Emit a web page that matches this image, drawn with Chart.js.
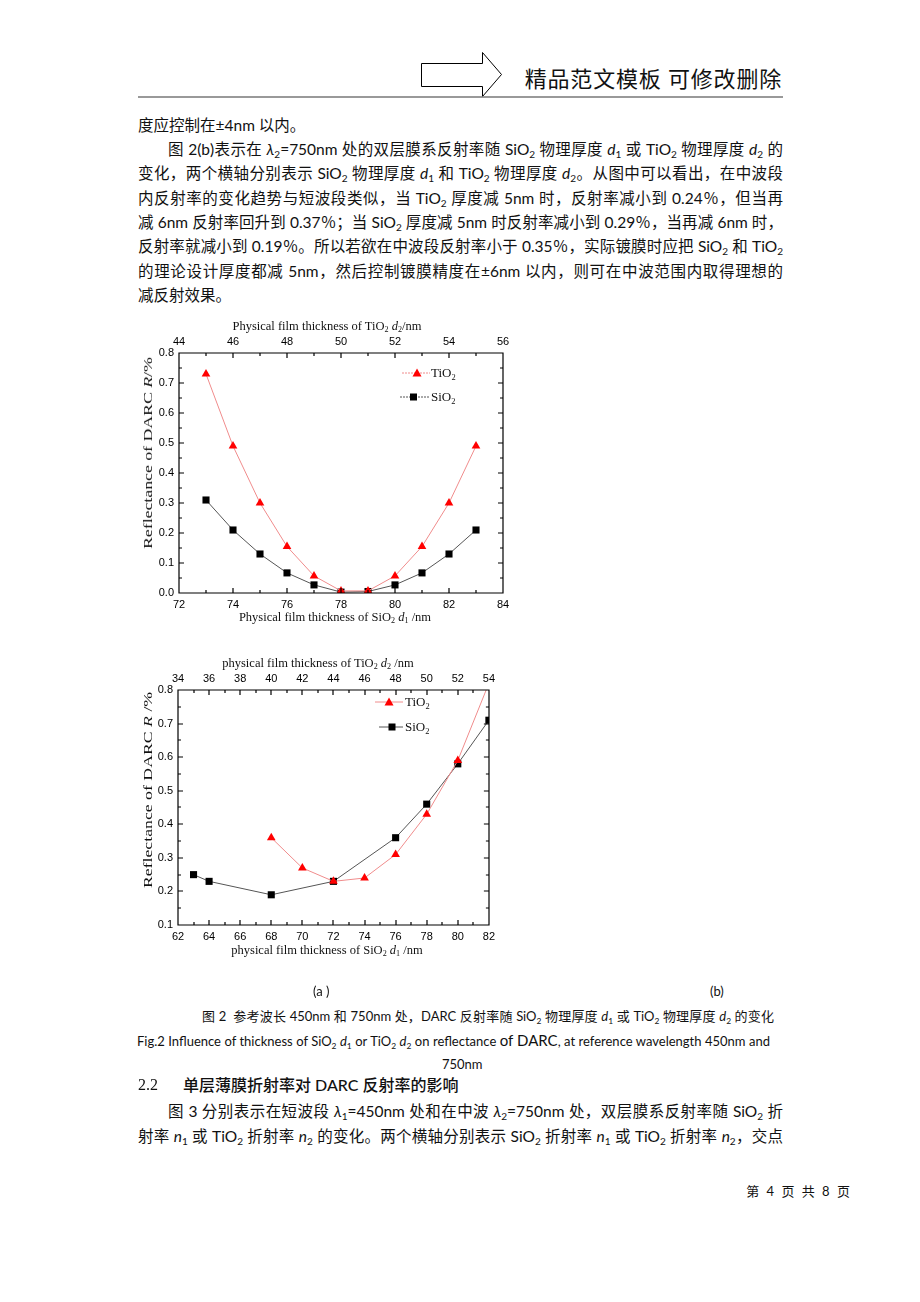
<!DOCTYPE html>
<html lang="zh">
<head>
<meta charset="UTF-8">
<title>DARC 反射率随膜层厚度的变化</title>
<script src="https://cdn.jsdelivr.net/npm/chart.js"></script>
<style>
  body { margin: 0; background: #fff; }
  #page { position: relative; width: 920px; height: 1302px; overflow: hidden;
          font-family: Lato, "Noto Sans CJK SC", sans-serif; color: #111; }
  .ln { position: absolute; white-space: nowrap; font-size: 15.5px; line-height: 20px; }
  .just { text-align: justify; text-align-last: justify; }
  .cap { font-size: 13px; }
  sub { font-size: 65%; vertical-align: -0.3em; line-height: 0; }
  .ttl { position: absolute; font-family: "Liberation Serif", serif; font-size: 12.5px;
         white-space: nowrap; line-height: 16px; color: #111; transform: translate(-50%, -50%); }
  .ytl { transform: translate(-50%, -50%) rotate(-90deg) scaleX(1.42); }
  .lg { position: absolute; font-family: "Liberation Serif", serif; font-size: 13px;
        white-space: nowrap; line-height: 16px; color: #111; }
  svg.mk { position: absolute; }
  canvas { position: absolute; }
</style>
</head>
<body>
<div id="page">
  <!-- 页眉 -->
  <svg style="position:absolute;left:0;top:0" width="920" height="110">
    <polygon points="421.5,63.5 482.5,63.5 482.5,52.5 501.5,74.5 482.5,96.5 482.5,86.5 421.5,86.5"
             fill="none" stroke="#000" stroke-width="1"/>
    <line x1="138" y1="97" x2="783" y2="97" stroke="#777" stroke-width="1.5"/>
  </svg>
  <div class="ln" style="right:138px;top:66px;font-size:22px;line-height:26px;font-weight:400;letter-spacing:0.8px">精品范文模板&nbsp;可修改删除</div>

  <!-- 正文 -->
  <div class="ln" style="left:138px;top:115px">度应控制在±4nm 以内。</div>
  <div class="ln just" style="left:168px;width:615px;top:139px">图 2(b)表示在 <i>λ</i><sub>2</sub>=750nm 处的双层膜系反射率随 SiO<sub>2</sub> 物理厚度 <i>d</i><sub>1</sub> 或 TiO<sub>2</sub> 物理厚度 <i>d</i><sub>2</sub> 的</div>
  <div class="ln just" style="left:138px;width:645px;top:163px">变化，两个横轴分别表示 SiO<sub>2</sub> 物理厚度 <i>d</i><sub>1</sub> 和 TiO<sub>2</sub> 物理厚度 <i>d</i><sub>2</sub>。从图中可以看出，在中波段</div>
  <div class="ln just" style="left:138px;width:645px;top:188px">内反射率的变化趋势与短波段类似，当 TiO<sub>2</sub> 厚度减 5nm 时，反射率减小到 0.24％，但当再</div>
  <div class="ln just" style="left:138px;width:645px;top:212px">减 6nm 反射率回升到 0.37％；当 SiO<sub>2</sub> 厚度减 5nm 时反射率减小到 0.29％，当再减 6nm 时，</div>
  <div class="ln just" style="left:138px;width:645px;top:236px">反射率就减小到 0.19％。所以若欲在中波段反射率小于 0.35％，实际镀膜时应把 SiO<sub>2</sub> 和 TiO<sub>2</sub></div>
  <div class="ln just" style="left:138px;width:645px;top:261px">的理论设计厚度都减 5nm，然后控制镀膜精度在±6nm 以内，则可在中波范围内取得理想的</div>
  <div class="ln" style="left:138px;top:285px">减反射效果。</div>

  <!-- 图 (a) -->
  <canvas id="chartA" width="365" height="280" style="left:150px;top:333px"></canvas>
  <div class="ttl" style="left:327px;top:326px">Physical film thickness of TiO<sub>2</sub> <i>d</i><sub>2</sub>/nm</div>
  <div class="ttl" style="left:335px;top:617px">Physical film thickness of SiO<sub>2</sub> <i>d</i><sub>1</sub> /nm</div>
  <div class="ttl ytl" style="left:148px;top:453px">Reflectance of DARC <i>R</i>/%</div>
  <svg class="mk" style="left:402px;top:368px" width="28" height="10">
    <line x1="0" y1="5" x2="28" y2="5" stroke="#f08c8c" stroke-width="1" stroke-dasharray="2,1"/>
    <polygon points="15,0.5 19.5,8.5 10.5,8.5" fill="#f00"/>
  </svg>
  <div class="lg" style="left:431px;top:365px">TiO<sub>2</sub></div>
  <svg class="mk" style="left:400px;top:392px" width="30" height="10">
    <line x1="0" y1="5" x2="30" y2="5" stroke="#555" stroke-width="1" stroke-dasharray="2,1"/>
    <rect x="10" y="1.5" width="7" height="7" fill="#000"/>
  </svg>
  <div class="lg" style="left:431px;top:389px">SiO<sub>2</sub></div>

  <!-- 图 (b) -->
  <canvas id="chartB" width="350" height="275" style="left:150px;top:670px"></canvas>
  <div class="ttl" style="left:318px;top:663px">physical film thickness of TiO<sub>2</sub> <i>d</i><sub>2</sub> /nm</div>
  <div class="ttl" style="left:327px;top:950px">physical film thickness of SiO<sub>2</sub> <i>d</i><sub>1</sub> /nm</div>
  <div class="ttl ytl" style="left:148px;top:790px">Reflectance of DARC <i>R</i> /%</div>
  <svg class="mk" style="left:375px;top:697px" width="28" height="10">
    <line x1="0" y1="5" x2="28" y2="5" stroke="#f08c8c" stroke-width="1"/>
    <polygon points="14,0.5 18.5,8.5 9.5,8.5" fill="#f00"/>
  </svg>
  <div class="lg" style="left:405px;top:694px">TiO<sub>2</sub></div>
  <svg class="mk" style="left:379px;top:722px" width="24" height="10">
    <line x1="0" y1="5" x2="24" y2="5" stroke="#555" stroke-width="1"/>
    <rect x="9.5" y="1.5" width="7" height="7" fill="#000"/>
  </svg>
  <div class="lg" style="left:405px;top:719px">SiO<sub>2</sub></div>

  <!-- 图注 -->
  <div class="ln cap" style="left:313px;top:981px">(a )</div>
  <div class="ln cap" style="left:710px;top:981px">(b)</div>
  <div class="ln cap just" style="left:202px;width:572px;top:1006px">图 2&nbsp; 参考波长 450nm 和 750nm 处，DARC 反射率随 SiO<sub>2</sub> 物理厚度 <i>d</i><sub>1</sub> 或 TiO<sub>2</sub> 物理厚度 <i>d</i><sub>2</sub> 的变化</div>
  <div class="ln cap just" style="left:137px;width:633px;top:1030px">Fig.2 Influence of thickness of SiO<sub>2</sub> <i>d</i><sub>1</sub> or TiO<sub>2</sub> <i>d</i><sub>2</sub> on reflectance <span style="font-size:15px">of DARC</span>, at reference wavelength 450nm and</div>
  <div class="ln cap" style="left:442px;top:1054px">750nm</div>

  <!-- 2.2 节 -->
  <div class="ln" style="left:138px;top:1075px;font-family:'Liberation Serif',serif;font-size:16px">2.2</div>
  <div class="ln" style="left:183px;top:1075px;font-size:16px;font-weight:500">单层薄膜折射率对 DARC 反射率的影响</div>
  <div class="ln just" style="left:168px;width:615px;top:1101px">图 3 分别表示在短波段 <i>λ</i><sub>1</sub>=450nm 处和在中波 <i>λ</i><sub>2</sub>=750nm 处，双层膜系反射率随 SiO<sub>2</sub> 折</div>
  <div class="ln just" style="left:138px;width:645px;top:1126px">射率 <i>n</i><sub>1</sub> 或 TiO<sub>2</sub> 折射率 <i>n</i><sub>2</sub> 的变化。两个横轴分别表示 SiO<sub>2</sub> 折射率 <i>n</i><sub>1</sub> 或 TiO<sub>2</sub> 折射率 <i>n</i><sub>2</sub>，交点</div>

  <!-- 页脚 -->
  <div class="ln" style="right:68px;top:1181px;font-size:13px;letter-spacing:2px">第 4 页 共 8 页</div>
</div>

<script>
  // 图(a)：λ=450nm
  const sio2D1A = [73, 74, 75, 76, 77, 78, 79, 80, 81, 82, 83];
  const sio2RA = [0.31, 0.21, 0.13, 0.067, 0.027, 0.003, 0.005, 0.027, 0.067, 0.13, 0.21];
  const tio2D2A = [45, 46, 47, 48, 49, 50, 51, 52, 53, 54, 55];
  const tio2RA = [0.73, 0.49, 0.30, 0.155, 0.057, 0.007, 0.007, 0.057, 0.155, 0.30, 0.49];

  // 图(b)：λ=750nm
  const sio2D1B = [63, 64, 68, 72, 76, 78, 80, 82];
  const sio2RB = [0.25, 0.23, 0.19, 0.23, 0.36, 0.46, 0.58, 0.71];
  const tio2D2B = [40, 42, 44, 46, 48, 50, 52, 54];
  const tio2RB = [0.36, 0.27, 0.23, 0.24, 0.31, 0.43, 0.59, 0.82];

  Chart.defaults.color = '#000';
  Chart.defaults.font.family = '"Liberation Sans", Arial, sans-serif';
  Chart.defaults.font.size = 11;

  // 画边框和朝内的刻度线
  const boxTicks = {
    id: 'boxTicks',
    afterDatasetsDraw(chart, args, opts) {
      const { ctx, chartArea: a, scales } = chart;
      ctx.save();
      ctx.strokeStyle = '#000';
      ctx.lineWidth = 1.2;
      ctx.beginPath();
      ctx.rect(Math.round(a.left), Math.round(a.top), Math.round(a.right - a.left), Math.round(a.bottom - a.top));
      const marks = (scale, minor, draw) => {
        const major = scale.ticks.map(t => t.value);
        for (let k = 0; ; k++) {
          const v = scale.min + k * minor;
          if (v > scale.max + 1e-9) break;
          const isMajor = major.some(m => Math.abs(m - v) < 1e-6);
          draw(Math.round(scale.getPixelForValue(v)), isMajor ? 5 : 3);
        }
      };
      marks(scales.x, opts.xMinor, (p, l) => { ctx.moveTo(p, a.bottom); ctx.lineTo(p, a.bottom - l); });
      marks(scales.x2, opts.xMinor, (p, l) => { ctx.moveTo(p, a.top); ctx.lineTo(p, a.top + l); });
      marks(scales.y, opts.yMinor, (p, l) => {
        ctx.moveTo(a.left, p); ctx.lineTo(a.left + l, p);
        ctx.moveTo(a.right, p); ctx.lineTo(a.right - l, p);
      });
      ctx.stroke();
      ctx.restore();
    }
  };

  function pairs(xs, ys) {
    return xs.map((v, i) => ({ x: v, y: ys[i] }));
  }

  function makeChart(id, c) {
    const noGrid = { display: false, drawTicks: false };
    return new Chart(document.getElementById(id), {
      type: 'line',
      data: {
        datasets: [
          {
            label: 'TiO2', data: pairs(c.tio2X, c.tio2Y), xAxisID: 'x2',
            borderColor: '#f08c8c', borderWidth: 1, pointStyle: 'triangle', pointRadius: 5,
            pointBackgroundColor: '#ff0000', pointBorderColor: '#ff0000', pointBorderWidth: 0,
            order: 0, clip: 0
          },
          {
            label: 'SiO2', data: pairs(c.sio2X, c.sio2Y), xAxisID: 'x',
            borderColor: '#555', borderWidth: 1, pointStyle: 'rect', pointRadius: 5,
            pointBackgroundColor: '#000', pointBorderColor: '#000', pointBorderWidth: 0,
            order: 1, clip: 0
          }
        ]
      },
      options: {
        responsive: false,
        animation: false,
        layout: { padding: { right: c.padRight, left: 0, top: 0, bottom: 0 } },
        plugins: {
          legend: { display: false },
          tooltip: { enabled: false },
          boxTicks: { xMinor: 1, yMinor: 0.05 }
        },
        scales: {
          x: {
            type: 'linear', position: 'bottom', min: c.xMin, max: c.xMax,
            ticks: { stepSize: 2, padding: 5, maxRotation: 0, autoSkip: false },
            grid: noGrid, border: { display: false },
            afterFit: s => { s.height = 20; }
          },
          x2: {
            type: 'linear', position: 'top', min: c.x2Min, max: c.x2Max,
            ticks: { stepSize: 2, padding: 4, maxRotation: 0, autoSkip: false },
            grid: noGrid, border: { display: false },
            afterFit: s => { s.height = 20; }
          },
          y: {
            min: c.yMin, max: 0.8,
            ticks: { stepSize: 0.1, padding: 5, callback: v => v.toFixed(1) },
            grid: noGrid, border: { display: false },
            afterFit: s => { s.width = c.yWidth; }
          }
        }
      },
      plugins: [boxTicks]
    });
  }

  makeChart('chartA', {
    sio2X: sio2D1A, sio2Y: sio2RA, tio2X: tio2D2A, tio2Y: tio2RA,
    xMin: 72, xMax: 84, x2Min: 44, x2Max: 56, yMin: 0, yWidth: 29, padRight: 12
  });
  makeChart('chartB', {
    sio2X: sio2D1B, sio2Y: sio2RB, tio2X: tio2D2B, tio2Y: tio2RB,
    xMin: 62, xMax: 82, x2Min: 34, x2Max: 54, yMin: 0.1, yWidth: 28, padRight: 11
  });
</script>
</body>
</html>
